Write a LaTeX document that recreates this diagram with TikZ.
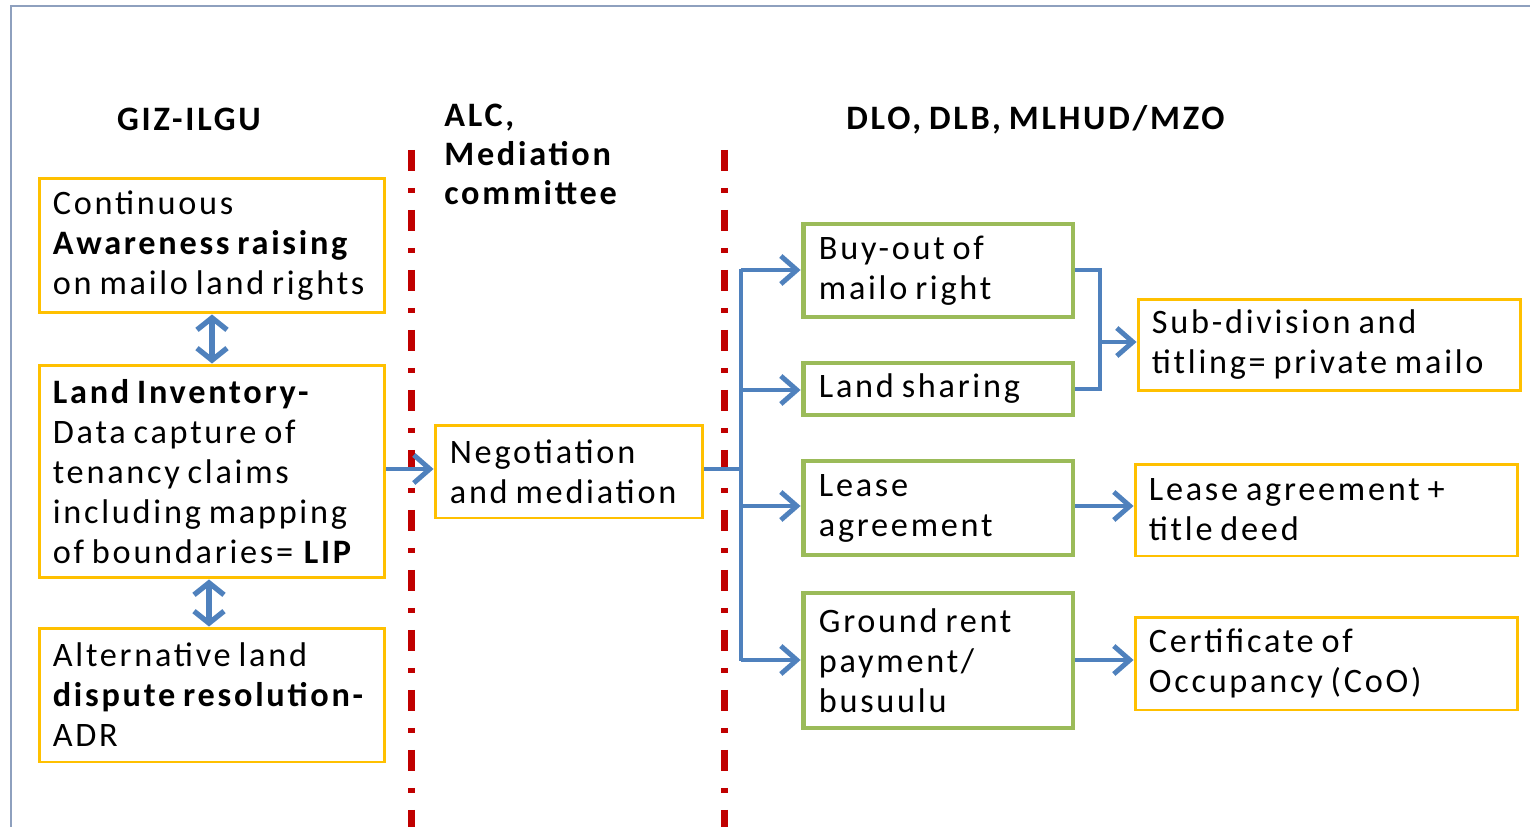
\documentclass[tikz,border=0pt]{standalone}
\usepackage{fontspec}
\setmainfont[LetterSpace=8, WordSpace=0.75]{Carlito}
\usetikzlibrary{arrows.meta}
\definecolor{orng}{HTML}{FFC000}
\definecolor{grn}{HTML}{9BBB59}
\definecolor{blu}{HTML}{4F81BD}
\definecolor{rd}{HTML}{C00000}
\definecolor{frm}{HTML}{8EA0BE}
\tikzset{
  txt/.style={font=\fontsize{19.5pt}{22.76pt}\selectfont, text=black, align=left, inner sep=0pt},
  obox/.style={draw=orng, line width=1.7pt, inner sep=0pt, minimum width=#1},
  gbox/.style={draw=grn, line width=2.8pt, inner sep=0pt, minimum width=#1},
  hdr/.style={txt, font=\fontsize{19.5pt}{22.2pt}\selectfont\bfseries},
  conn/.style={draw=blu, line width=2.8pt},
  arr/.style={conn, -{Straight Barb[length=0.32cm, width=0.56cm, line width=2.8pt]}},
  darr/.style={conn, line width=3.4pt, {Straight Barb[length=0.24cm, width=0.6cm, line width=3pt]}-{Straight Barb[length=0.24cm, width=0.6cm, line width=3pt]}},
  redline/.style={draw=rd, line width=0.14cm, dash pattern=on 0.42cm off 0.34cm on 0.1cm off 0.34cm},
}
\begin{document}
\begin{tikzpicture}[x=0.02cm, y=-0.02cm]
\useasboundingbox (0,0) rectangle (1530,827);
% frame
\draw[frm, line width=1.2pt] (11,827) -- (11,6) -- (1530,6);
% red dash-dot separators
\draw[redline] (411,150) -- (411,827);
\draw[redline] (724,150) -- (724,827);
% headers
\node[hdr] (h1) at (189,119) {GIZ-ILGU};
\node[hdr, anchor=west] (h2) at (444,154) {ALC,\\Mediation\\committee};
\node[hdr, anchor=west] (h3) at (846,120) {DLO, DLB, MLHUD/MZO};
% left column boxes
\node[obox=6.92cm, minimum height=2.7cm] (b1) at (212,245.5) {};
\node[obox=6.92cm, minimum height=4.26cm] (b2) at (212,471.5) {};
\node[obox=6.92cm, minimum height=2.68cm] (b3) at (212,695) {};
\node[txt, anchor=west] (t1) at ([xshift=0.3cm]b1.west) {Continuous\\\textbf{Awareness raising}\\on mailo land rights};
\node[txt, anchor=west] (t2) at ([xshift=0.3cm]b2.west) {\textbf{Land Inventory-}\\Data capture of\\tenancy claims\\including mapping\\of boundaries= \textbf{LIP}};
\node[txt, anchor=west] (t3) at ([xshift=0.3cm]b3.west) {Alternative land\\\textbf{dispute resolution-}\\ADR};
% middle
\node[obox=5.36cm, minimum height=1.86cm] (neg) at (569,471.5) {};
\node[txt, anchor=west] (tn) at ([xshift=0.32cm]neg.west) {Negotiation\\and mediation};
% green options
\node[gbox=5.4cm, minimum height=1.86cm] (buy) at (938,270.5) {};
\node[gbox=5.4cm, minimum height=1.04cm] (share) at (938,389) {};
\node[gbox=5.4cm, minimum height=1.88cm] (lease) at (938,508) {};
\node[gbox=5.4cm, minimum height=2.7cm] (ground) at (938,660.5) {};
\node[txt, anchor=west] (tbuy) at ([xshift=0.36cm]buy.west) {Buy-out of\\mailo right};
\node[txt, anchor=west] (tshare) at ([xshift=0.36cm]share.west) {Land sharing};
\node[txt, anchor=west] (tlease) at ([xshift=0.36cm]lease.west) {Lease\\agreement};
\node[txt, anchor=west] (tground) at ([xshift=0.36cm]ground.west) {Ground rent\\payment/\\busuulu};
% outcomes
\node[obox=7.66cm, minimum height=1.84cm] (sub) at (1329.5,345) {};
\node[obox=7.66cm, minimum height=1.84cm] (leaset) at (1326.5,510) {};
\node[obox=7.66cm, minimum height=1.86cm] (cert) at (1326.5,663.5) {};
\node[txt, anchor=west] (tsub) at ([xshift=0.3cm]sub.west) {Sub-division and\\titling= private mailo};
\node[txt, anchor=west] (tleaset) at ([xshift=0.3cm]leaset.west) {Lease agreement +\\title deed};
\node[txt, anchor=west] (tcert) at ([xshift=0.3cm]cert.west) {Certificate of\\Occupancy (CoO)};
% connectors
\draw[darr] (b1.south) -- (b2.north);
\draw[darr] ([xshift=-0.06cm]b2.south) -- ([xshift=-0.06cm]b3.north);
\draw[arr] (b2.east |- 0,469) -- (neg.west |- 0,469);
\coordinate (jn) at (741,469);
\coordinate (ttop) at (741,270);
\coordinate (tbot) at (741,660);
\draw[conn] (neg.east |- jn) -- (jn);
\draw[conn] ([yshift=0.028cm]ttop) -- ([yshift=-0.028cm]tbot);
\draw[arr] (ttop) -- (buy.west |- ttop);
\draw[arr] (741,390) -- (share.west |- 0,390);
\draw[arr] (741,506) -- (lease.west |- 0,506);
\draw[arr] (tbot) -- (ground.west |- tbot);
\coordinate (m1) at (1100,270);
\coordinate (m2) at (1100,389);
\draw[conn] (buy.east |- m1) -- (m1) -- (m2) -- (share.east |- m2);
\draw[arr] (1100,342) -- (sub.west |- 0,342);
\draw[arr] (lease.east |- 0,506) -- (leaset.west |- 0,506);
\draw[arr] (ground.east |- 0,660) -- (cert.west |- 0,660);
\end{tikzpicture}
\end{document}
